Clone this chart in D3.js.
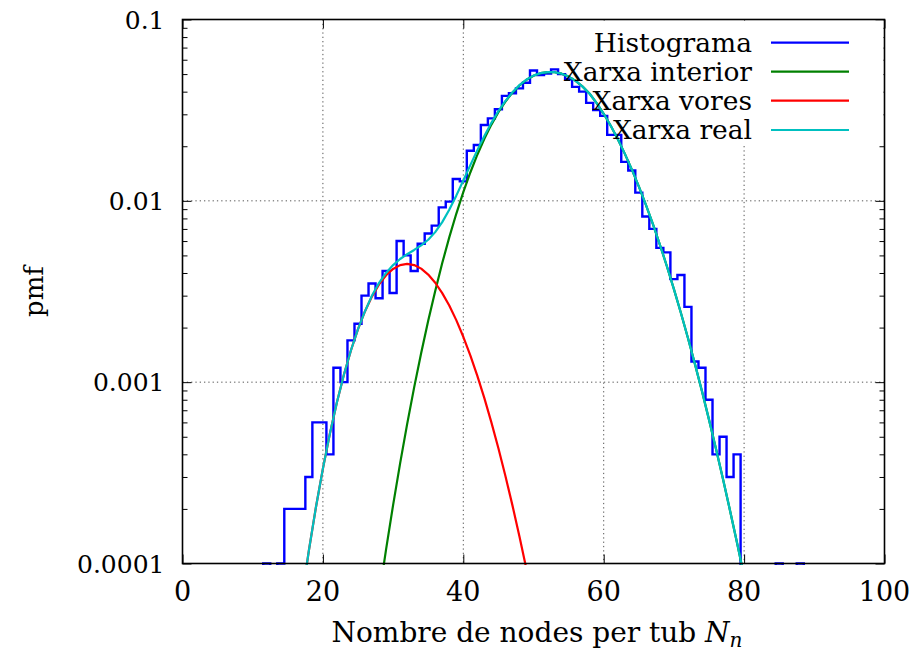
<!DOCTYPE html>
<html>
<head>
<meta charset="utf-8">
<script src="https://cdn.jsdelivr.net/npm/d3@7"></script>
<style>
  html, body { margin: 0; padding: 0; background: #fff; }
  svg { display: block; }
</style>
</head>
<body>
<div id="chart"></div>
<script>
// ---------------- data ----------------
const xTicks = [0, 20, 40, 60, 80, 100];
const yTicks = [0.1, 0.01, 0.001, 0.0001];
const yTickLabels = ["0.1", "0.01", "0.001", "0.0001"];

// histogram bins (bin centres) and pmf values (0 = empty bin)
const histBins = [11,12,13,14,15,16,17,18,19,20,21,22,23,24,25,26,27,28,29,30,
  31,32,33,34,35,36,37,38,39,40,41,42,43,44,45,46,47,48,49,50,
  51,52,53,54,55,56,57,58,59,60,61,62,63,64,65,66,67,68,69,70,
  71,72,73,74,75,76,77,78,79,80,81,82,83,84,85,86,87,88,89];
const histValues = [0,0.0001,0,0.0001,0.0002,0.0002,0.0002,0.0003,0.0006,0.0006,
  0.0004,0.0012,0.0010,0.0017,0.0021,0.0030,0.0035,0.0029,0.0041,0.0031,
  0.0060,0.0050,0.0041,0.0058,0.0066,0.0073,0.0092,0.0099,0.0132,0.0128,
  0.0189,0.0203,0.0262,0.0285,0.0320,0.0379,0.0392,0.0417,0.0448,0.0523,
  0.0494,0.0504,0.0531,0.0500,0.0470,0.0425,0.0400,0.0347,0.0317,0.0294,
  0.0231,0.0231,0.0164,0.0147,0.0111,0.0082,0.0070,0.0055,0.0052,0.0037,
  0.0039,0.0026,0.0013,0.0012,0.0008,0.0004,0.0005,0.0003,0.0004,0,
  0,0,0,0,0.0001,0,0,0.0001,0];

// fitted curves, sampled at integer N_n
const curveX = [16,17,18,19,20,21,22,23,24,25,26,27,28,29,30,31,32,33,34,35,
  36,37,38,39,40,41,42,43,44,45,46,47,48,49,50,51,52,53,54,55,
  56,57,58,59,60,61,62,63,64,65,66,67,68,69,70,71,72,73,74,75,
  76,77,78,79,80,81];
const interiorY = [null,null,null,null,null,null,null,null,null,null,null,
  3.51e-5,6.58e-5,1.196e-4,2.100e-4,3.565e-4,5.867e-4,9.359e-4,1.449e-3,2.180e-3,
  3.187e-3,4.536e-3,6.285e-3,8.482e-3,1.1165e-2,1.4335e-2,1.796e-2,2.199e-2,2.632e-2,3.080e-2,
  3.525e-2,3.948e-2,4.331e-2,4.653e-2,4.899e-2,5.058e-2,5.121e-2,5.121e-2,5.026e-2,4.844e-2,
  4.585e-2,4.263e-2,3.895e-2,3.458e-2,3.019e-2,2.593e-2,2.191e-2,1.821e-2,1.491e-2,1.202e-2,
  9.53e-3,7.455e-3,5.742e-3,4.359e-3,3.262e-3,2.406e-3,1.751e-3,1.257e-3,8.90e-4,6.214e-4,
  4.283e-4,2.913e-4,1.956e-4,1.297e-4,8.50e-5,5.50e-5];
const voresY = [3.31e-5,6.43e-5,1.177e-4,2.036e-4,3.338e-4,5.209e-4,7.75e-4,1.102e-3,1.4997e-3,1.960e-3,
  2.462e-3,2.974e-3,3.462e-3,3.885e-3,4.213e-3,4.419e-3,4.49e-3,4.424e-3,4.228e-3,3.921e-3,
  3.534e-3,3.097e-3,2.645e-3,2.199e-3,1.779e-3,1.404e-3,1.0836e-3,8.165e-4,6.004e-4,4.317e-4,
  3.035e-4,2.092e-4,1.4105e-4,9.287e-5,6.0e-5,
  null,null,null,null,null,null,null,null,null,null,null,null,null,null,null,
  null,null,null,null,null,null,null,null,null,null,null,null,null,null,null,null];
const realY = [3.31e-5,6.43e-5,1.177e-4,2.036e-4,3.338e-4,5.209e-4,7.75e-4,1.102e-3,1.4997e-3,1.960e-3,
  2.462e-3,3.009e-3,3.528e-3,4.005e-3,4.423e-3,4.776e-3,5.077e-3,5.360e-3,5.677e-3,6.101e-3,
  6.721e-3,7.633e-3,8.930e-3,1.0681e-2,1.2944e-2,1.5739e-2,1.9044e-2,2.2807e-2,2.692e-2,3.123e-2,
  3.555e-2,3.969e-2,4.345e-2,4.662e-2,4.905e-2,5.062e-2,5.121e-2,5.121e-2,5.026e-2,4.844e-2,
  4.585e-2,4.263e-2,3.895e-2,3.458e-2,3.019e-2,2.593e-2,2.191e-2,1.821e-2,1.491e-2,1.202e-2,
  9.53e-3,7.455e-3,5.742e-3,4.359e-3,3.262e-3,2.406e-3,1.751e-3,1.257e-3,8.90e-4,6.214e-4,
  4.283e-4,2.913e-4,1.956e-4,1.297e-4,8.50e-5,5.50e-5];

const seriesNames = ["Histograma", "Xarxa interior", "Xarxa vores", "Xarxa real"];
const seriesColors = ["#0000ff", "#008000", "#ff0000", "#00c0c0"];

// ---------------- layout ----------------
const W = 910, H = 652;
const plot = { left: 182.5, right: 884.5, top: 19.5, bottom: 563.5 };
const SERIF = "DejaVu Serif";

const svg = d3.select("#chart").append("svg")
  .attr("width", W).attr("height", H);

const x = d3.scaleLinear().domain([0, 100]).range([plot.left, plot.right]);
const y = d3.scaleLog().domain([0.0001, 0.1]).range([plot.bottom, plot.top]);

svg.append("defs").append("clipPath").attr("id", "clip")
  .append("rect")
  .attr("x", plot.left).attr("y", plot.top - 1)
  .attr("width", plot.right - plot.left).attr("height", plot.bottom - plot.top + 2.5);

// grid
const legendBox = { x0: 545, y1: 146 };
const grid = svg.append("g");
xTicks.filter(t => t > 0 && t < 100).forEach(t => {
  const gx = x(t);
  const yTop = gx > legendBox.x0 ? legendBox.y1 : plot.top;
  grid.append("line")
    .attr("x1", gx).attr("x2", gx).attr("y1", yTop).attr("y2", plot.bottom)
    .attr("stroke", "#555").attr("stroke-width", 1).attr("stroke-dasharray", "1.3,3");
});
yTicks.filter(t => t < 0.1 && t > 0.0001).forEach(t => {
  grid.append("line")
    .attr("x1", plot.left).attr("x2", plot.right).attr("y1", y(t)).attr("y2", y(t))
    .attr("stroke", "#555").attr("stroke-width", 1).attr("stroke-dasharray", "1.3,3");
});

// axes via d3 axis generators (ticks only, labels separate)
const major = 9, minor = 5;
const minorTicks = [];
[0.0001, 0.001, 0.01].forEach(d => { for (let k = 2; k <= 9; k++) minorTicks.push(d * k); });

function styleAxis(g) {
  g.select(".domain").remove();
  g.selectAll(".tick line").attr("stroke", "#000").attr("stroke-width", 1);
  g.selectAll(".tick text").remove();
}
svg.append("g").attr("transform", `translate(0,${plot.bottom})`)
  .call(d3.axisTop(x).tickValues(xTicks).tickSize(major)).call(styleAxis);
svg.append("g").attr("transform", `translate(0,${plot.top})`)
  .call(d3.axisBottom(x).tickValues(xTicks).tickSize(major)).call(styleAxis);
svg.append("g").attr("transform", `translate(${plot.left},0)`)
  .call(d3.axisRight(y).tickValues(yTicks).tickSize(major)).call(styleAxis);
svg.append("g").attr("transform", `translate(${plot.left},0)`)
  .call(d3.axisRight(y).tickValues(minorTicks).tickSize(minor)).call(styleAxis);
svg.append("g").attr("transform", `translate(${plot.right},0)`)
  .call(d3.axisLeft(y).tickValues(yTicks).tickSize(major)).call(styleAxis);
svg.append("g").attr("transform", `translate(${plot.right},0)`)
  .call(d3.axisLeft(y).tickValues(minorTicks).tickSize(minor)).call(styleAxis);

// legend background (opaque key)
svg.append("rect").attr("x", legendBox.x0).attr("y", plot.top + 1)
  .attr("width", plot.right - legendBox.x0 - 1).attr("height", legendBox.y1 - plot.top - 1)
  .attr("fill", "#fff");

// data
const dataG = svg.append("g").attr("clip-path", "url(#clip)");
const FLOOR = 1e-7;
const histPts = [];
histBins.forEach((b, i) => {
  const v = histValues[i] > 0 ? histValues[i] : FLOOR;
  histPts.push([b - 0.5, v], [b + 0.5, v]);
});
const line = d3.line().x(d => x(d[0])).y(d => y(d[1]));
dataG.append("path").attr("d", line(histPts))
  .attr("fill", "none").attr("stroke", seriesColors[0]).attr("stroke-width", 2.4)
  .attr("stroke-linejoin", "miter");

const curveLine = d3.line()
  .defined(d => d[1] != null)
  .x(d => x(d[0])).y(d => y(d[1]));
[[interiorY, 1], [voresY, 2], [realY, 3]].forEach(([arr, ci]) => {
  const pts = curveX.map((cx, i) => [cx, arr[i]]);
  dataG.append("path").attr("d", curveLine(pts))
    .attr("fill", "none").attr("stroke", seriesColors[ci]).attr("stroke-width", 2.2)
    .attr("stroke-linejoin", "round");
});

// frame
svg.append("rect")
  .attr("x", plot.left).attr("y", plot.top)
  .attr("width", plot.right - plot.left).attr("height", plot.bottom - plot.top)
  .attr("fill", "none").attr("stroke", "#000").attr("stroke-width", 1.6);

// tick labels
svg.append("g").selectAll("text").data(yTicks).join("text")
  .attr("font-family", SERIF)
  .attr("x", plot.left - 18).attr("y", d => y(d) + 9)
  .attr("text-anchor", "end").attr("font-size", 25)
  .text((d, i) => yTickLabels[i]);
svg.append("g").selectAll("text").data(xTicks).join("text")
  .attr("font-family", SERIF)
  .attr("x", d => x(d)).attr("y", 601)
  .attr("text-anchor", "middle").attr("font-size", 27)
  .text(d => d);

// axis titles
svg.append("text").attr("font-family", SERIF)
  .attr("transform", `translate(43,${(plot.top + plot.bottom) / 2}) rotate(-90)`)
  .attr("text-anchor", "middle").attr("font-size", 26)
  .text("pmf");
const xt = svg.append("text").attr("font-family", SERIF)
  .attr("x", 537).attr("y", 642)
  .attr("text-anchor", "middle").attr("font-size", 28);
xt.append("tspan").text("Nombre de nodes per tub ");
xt.append("tspan").attr("font-style", "italic").text("N");
xt.append("tspan").attr("font-style", "italic").attr("font-size", 20)
  .attr("dy", 5).text("n");

// legend
const legendRowY = [42.7, 71.7, 100.7, 130];
const lg = svg.append("g");
seriesNames.forEach((name, i) => {
  lg.append("text").attr("font-family", SERIF)
    .attr("x", 752).attr("y", legendRowY[i] + 9)
    .attr("text-anchor", "end").attr("font-size", 26.5).text(name);
  lg.append("line").attr("x1", 771).attr("x2", 849)
    .attr("y1", legendRowY[i]).attr("y2", legendRowY[i])
    .attr("stroke", seriesColors[i]).attr("stroke-width", 2.2);
});
</script>
</body>
</html>
